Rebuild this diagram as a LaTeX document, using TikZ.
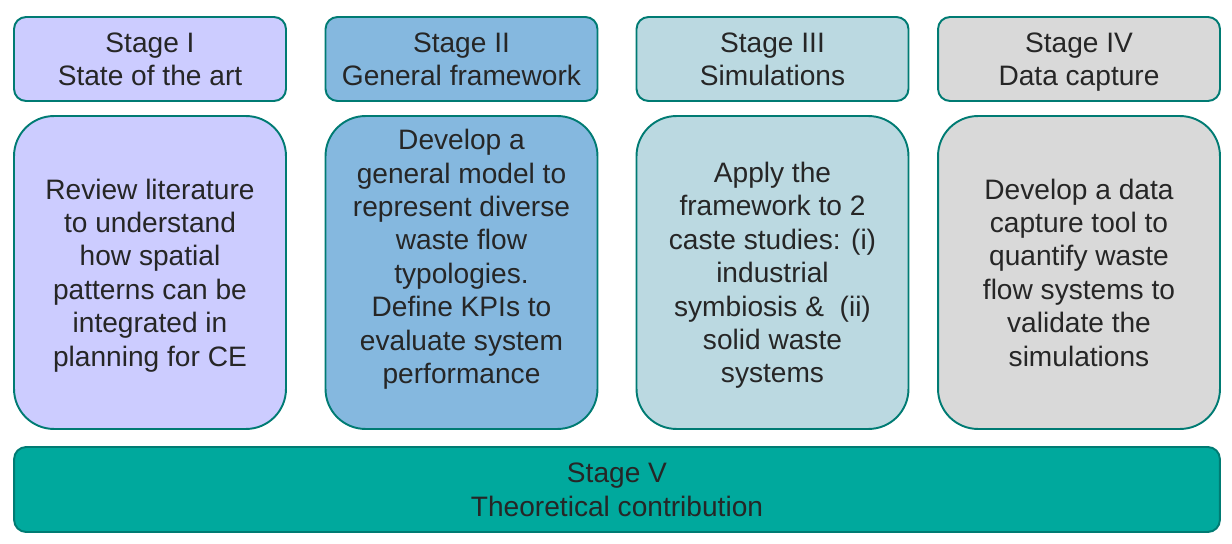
\documentclass[tikz,border=0pt]{standalone}
\usepackage{fontspec}
\setmainfont{Liberation Sans}
\usepackage{xcolor}
\usetikzlibrary{positioning}

\definecolor{edgeteal}{HTML}{007B73}
\definecolor{inkgrey}{HTML}{262626}
\definecolor{stageone}{HTML}{CCCCFF}
\definecolor{stagetwo}{HTML}{85B8DF}
\definecolor{stagethree}{HTML}{BBD9E1}
\definecolor{stagefour}{HTML}{D9D9D9}
\definecolor{stagefive}{HTML}{00A99D}

\tikzset{
    headbox/.style={draw=edgeteal, line width=1.1pt, rounded corners=0.24cm,
        minimum width=5.44cm, minimum height=1.68cm, align=center, text depth=0pt,
        text=inkgrey, font=\fontsize{16}{19}\selectfont},
    midbox/.style={draw=edgeteal, line width=1.1pt, rounded corners=0.8cm,
        minimum width=5.44cm, minimum height=6.26cm, align=center, text depth=0pt,
        text=inkgrey, font=\fontsize{16}{19}\selectfont},
    plaintext/.style={align=center, text depth=0pt, text=inkgrey,
        font=\fontsize{16}{19}\selectfont}
}

\begin{document}
\begin{tikzpicture}[x=0.02cm, y=-0.02cm]
    \useasboundingbox (0, 0) rectangle (1232, 544);
    % top row
    \node[headbox, fill=stageone] (h1) at (150, 59) {Stage I\\State of the art};
    \node[headbox, fill=stagetwo] (h2) at (461.5, 59) {Stage II\\General framework};
    \node[headbox, fill=stagethree] (h3) at (772.5, 59) {Stage III\\Simulations};
    \node[headbox, fill=stagefour, minimum width=5.64cm] (h4) at (1079, 59) {Stage IV\\Data capture};
    % middle row
    \node[midbox, fill=stageone] (d1) at (150, 272.5)
        {Review literature\\to understand\\how spatial\\patterns can be\\integrated in\\planning for CE};
    \node[midbox, fill=stagetwo] (d2) at (461.5, 272.5) {};
    \node[plaintext] (t2) at (461.5, 256.5)
        {Develop a\\general model to\\represent diverse\\waste flow\\typologies.\\Define KPIs to\\evaluate system\\performance};
    \node[midbox, fill=stagethree] (d3) at (772.5, 272.5)
        {Apply the\\framework to 2\\caste studies: (i)\\industrial\\symbiosis \&\ \ (ii)\\solid waste\\systems};
    \node[midbox, fill=stagefour, minimum width=5.64cm] (d4) at (1079, 272.5)
        {Develop a data\\capture tool to\\quantify waste\\flow systems to\\validate the\\simulations};
    % bottom bar
    \node[headbox, fill=stagefive, minimum width=24.12cm, minimum height=1.7cm] (h5) at (617, 489.5)
        {Stage V\\Theoretical contribution};
\end{tikzpicture}
\end{document}
